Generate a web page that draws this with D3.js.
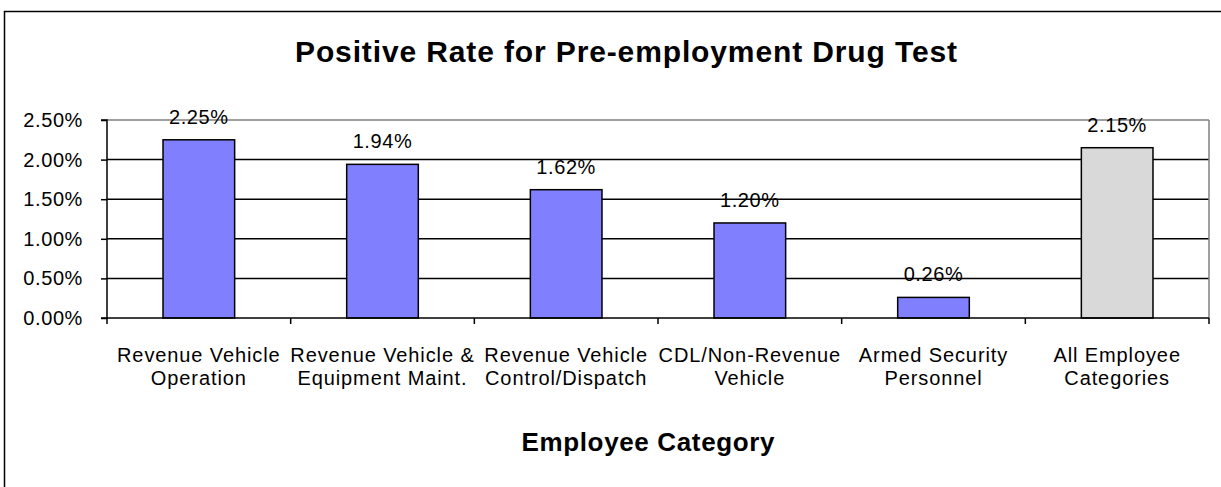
<!DOCTYPE html>
<html><head><meta charset="utf-8">
<script src="https://cdn.jsdelivr.net/npm/d3@7"></script>
<style>body{margin:0;background:#fff}svg{display:block}text{font-family:"Liberation Sans",Arial,sans-serif}</style>
</head><body>
<svg id="c" width="1221" height="487"></svg>
<script>
const categories = [
  ["Revenue Vehicle","Operation"],
  ["Revenue Vehicle &","Equipment Maint."],
  ["Revenue Vehicle","Control/Dispatch"],
  ["CDL/Non-Revenue","Vehicle"],
  ["Armed Security","Personnel"],
  ["All Employee","Categories"]
];
const values = [2.25, 1.94, 1.62, 1.20, 0.26, 2.15];
const valueLabels = ["2.25%","1.94%","1.62%","1.20%","0.26%","2.15%"];
const yTicks = [0, 0.5, 1.0, 1.5, 2.0, 2.5];
const yTickLabels = ["0.00%","0.50%","1.00%","1.50%","2.00%","2.50%"];
const isTotal = [false,false,false,false,false,true];

const svg = d3.select("#c");
const L=107, R=1209, T=120, B=318;

// outer border
svg.append("path").attr("d","M4.5,487 V11.5 H1221").attr("fill","none").attr("stroke","#000").attr("stroke-width",1.5);

svg.append("text").attr("x",626).attr("y",62).attr("text-anchor","middle")
  .attr("font-size",30).attr("font-weight","bold")
  .attr("textLength",662).attr("lengthAdjust","spacing")
  .text("Positive Rate for Pre-employment Drug Test");

const x = d3.scaleBand().domain(d3.range(categories.length)).range([L,R]).paddingInner(0).paddingOuter(0);
const y = d3.scaleLinear().domain([0,2.5]).range([B,T]);

// gridlines
svg.append("g").selectAll("line").data(yTicks.filter(v=>v>0)).join("line")
  .attr("x1",L).attr("x2",R).attr("y1",d=>y(d)).attr("y2",d=>y(d))
  .attr("stroke",d=>d===2.5?"#808080":"#000").attr("stroke-width",1.5);
// right border
svg.append("line").attr("x1",R).attr("x2",R).attr("y1",T).attr("y2",B).attr("stroke","#808080").attr("stroke-width",1.5);

// bars
const bw = x.bandwidth()*0.39;
svg.append("g").selectAll("rect").data(values).join("rect")
  .attr("x",(d,i)=>x(i)+x.bandwidth()/2-bw/2).attr("width",bw)
  .attr("y",d=>y(d)).attr("height",d=>B-y(d))
  .attr("fill",(d,i)=>isTotal[i]?"#D9D9D9":"#8080FF").attr("stroke","#000").attr("stroke-width",1.5);

// value labels
svg.append("g").selectAll("text").data(values).join("text")
  .attr("x",(d,i)=>x(i)+x.bandwidth()/2).attr("y",d=>y(d)-16)
  .attr("text-anchor","middle").attr("font-size",20).attr("letter-spacing",0.6)
  .text((d,i)=>valueLabels[i]);

// y axis
const yAxis = d3.axisLeft(y).tickValues(yTicks).tickFormat((d,i)=>yTickLabels[i]).tickSize(6).tickPadding(18);
const gy = svg.append("g").attr("transform",`translate(${L},0)`).call(yAxis);
gy.select(".domain").attr("stroke","#000").attr("stroke-width",1.5).attr("d",`M-6,${T}H0V${B}H-6`);
gy.selectAll(".tick line").attr("stroke-width",1.5);
gy.selectAll("text").attr("font-size",20).attr("letter-spacing",0.6)
  .attr("font-family","Liberation Sans, Arial, sans-serif").attr("fill","#000");

// x axis line and ticks at boundaries
svg.append("line").attr("x1",L).attr("x2",R).attr("y1",B).attr("y2",B).attr("stroke","#000").attr("stroke-width",1.5);
const bounds = d3.range(categories.length+1).map(i=> i<categories.length ? x(i) : R);
svg.append("g").selectAll("line").data(bounds).join("line")
  .attr("x1",d=>d).attr("x2",d=>d).attr("y1",B).attr("y2",B+6).attr("stroke","#000").attr("stroke-width",1.5);

// category labels
const cl = svg.append("g").selectAll("text").data(categories).join("text")
  .attr("x",(d,i)=>x(i)+x.bandwidth()/2).attr("y",362).attr("text-anchor","middle")
  .attr("font-size",20).attr("letter-spacing",0.9);
cl.selectAll("tspan").data(d=>d).join("tspan")
  .attr("x",function(){return this.parentNode.getAttribute("x");})
  .attr("dy",(d,i)=>i===0?0:23).text(d=>d);

svg.append("text").attr("x",648).attr("y",451).attr("text-anchor","middle")
  .attr("font-size",26).attr("font-weight","bold")
  .attr("textLength",253).attr("lengthAdjust","spacing")
  .text("Employee Category");
</script>
</body></html>
